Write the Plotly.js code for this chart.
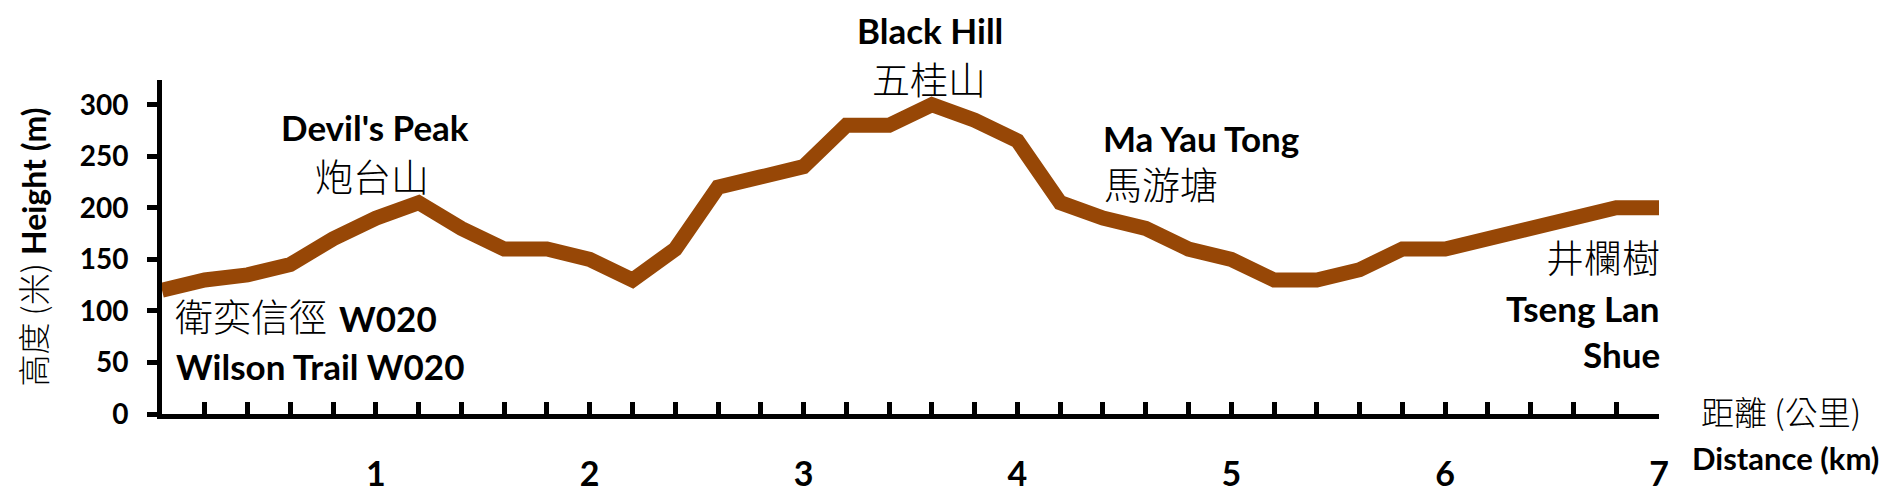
<!DOCTYPE html>
<html>
<head>
<meta charset="utf-8">
<script src="https://cdn.plot.ly/plotly-3.0.1.min.js"></script>
<style>
  html, body { margin: 0; padding: 0; background: #ffffff; }
  #chart { width: 1892px; height: 498px; }
</style>
</head>
<body>
<div id="chart"></div>
<script>
// ---- data ----
const distanceKm = [0.0, 0.2, 0.4, 0.6, 0.8, 1.0, 1.2, 1.4, 1.6, 1.8,
                    2.0, 2.2, 2.4, 2.6, 2.8, 3.0, 3.2, 3.4, 3.6, 3.8,
                    4.0, 4.2, 4.4, 4.6, 4.8, 5.0, 5.2, 5.4, 5.6, 5.8,
                    6.0, 6.2, 6.4, 6.6, 6.8, 7.0];
const heightM = [120, 130, 135, 145, 170, 190, 205, 180, 160, 160,
                 150, 130, 160, 220, 230, 240, 280, 280, 300, 285,
                 265, 205, 190, 180, 160, 150, 130, 130, 140, 160,
                 160, 170, 180, 190, 200, 200];
const xTickVals = [1, 2, 3, 4, 5, 6, 7];
const xTickText = ['1', '2', '3', '4', '5', '6', '7'];
const yTickVals = [0, 50, 100, 150, 200, 250, 300];
const yTickText = ['0', '50', '100', '150', '200', '250', '300'];
const placeEn = ["Devil's Peak", 'Black Hill', 'Ma Yau Tong', 'Wilson Trail W020', 'Tseng Lan', 'Shue'];
const placeZh = ['炮台山', '五桂山', '馬游塘', '衛奕信徑', '井欄樹'];
const trailCode = 'W020';
const yTitleZh = '高度 (米)';
const yTitleEn = 'Height (m)';
const xTitleZh = '距離 (公里)';
const xTitleEn = 'Distance (km)';

// ---- layout helpers ----
const M = { l: 162, r: 233, t: 80, b: 84 };
const W = 1892, H = 498;
const PW = W - M.l - M.r, PH = H - M.t - M.b;
const px = x => (x - M.l) / PW;
const py = y => (H - M.b - y) / PH;

const CJK_FAMILY = '"Noto Sans CJK TC", "Noto Sans CJK SC", sans-serif';
const EN = { family: 'Lato, "Open Sans", sans-serif', size: 35, color: '#000000', weight: 'bold' };
const ZH = { family: CJK_FAMILY, size: 38, color: '#000000', weight: 300 };

function ann(text, x, y, xanchor, font) {
  return { text: text, xref: 'paper', yref: 'paper', x: px(x), y: py(y),
           xanchor: xanchor, yanchor: 'middle', showarrow: false, font: font };
}

const annotations = [
  ann(placeEn[0], 375, 127, 'center', EN),
  ann(placeZh[0], 372, 174, 'center', ZH),
  ann(placeEn[1], 930, 30, 'center', EN),
  ann(placeZh[1], 929, 77, 'center', ZH),
  ann(placeEn[2], 1101, 138, 'left', EN),
  ann(placeZh[2], 1102, 182, 'left', ZH),
  ann(placeZh[3], 173, 314, 'left', ZH),
  ann(trailCode, 337, 318, 'left', EN),
  ann(placeEn[3], 174, 366, 'left', EN),
  ann(placeZh[4], 1662, 255, 'right', ZH),
  ann(placeEn[4], 1662, 308, 'right', EN),
  ann(placeEn[5], 1662, 354, 'right', EN),
  ann(xTitleZh, 1699, 411, 'left', Object.assign({}, ZH, { size: 33 })),
  ann(xTitleEn, 1690, 458, 'left', Object.assign({}, EN, { size: 31 }))
];

const trace = {
  x: distanceKm,
  y: heightM,
  type: 'scatter',
  mode: 'lines',
  line: { color: '#974706', width: 15, shape: 'linear' },
  hoverinfo: 'skip'
};

const layout = {
  width: W, height: H,
  margin: M,
  paper_bgcolor: '#ffffff',
  plot_bgcolor: '#ffffff',
  showlegend: false,
  xaxis: {
    range: [0, 7],
    showgrid: false, zeroline: false,
    showline: true, linecolor: '#000000', linewidth: 5,
    tickmode: 'array', tickvals: xTickVals, ticktext: xTickText,
    ticks: 'inside', ticklen: 12, tickwidth: 5, tickcolor: '#000000',
    ticklabelstandoff: 26,
    minor: { tickmode: 'linear', tick0: 0, dtick: 0.2, ticks: 'inside', ticklen: 12, tickwidth: 5, tickcolor: '#000000', showgrid: false },
    tickfont: { family: 'Lato, "Open Sans", sans-serif', size: 34, color: '#000000', weight: 'bold' },
    fixedrange: true
  },
  yaxis: {
    range: [0, 324],
    showgrid: false, zeroline: false,
    showline: true, linecolor: '#000000', linewidth: 5,
    tickmode: 'array', tickvals: yTickVals, ticktext: yTickText,
    ticks: 'outside', ticklen: 10, tickwidth: 5, tickcolor: '#000000',
    ticklabelstandoff: 13,
    tickfont: { family: 'Lato, "Open Sans", sans-serif', size: 28, color: '#000000', weight: 'bold' },
    automargin: true,
    title: {
      text: '<span style="font-family:\'Noto Sans CJK TC\';font-weight:300">' + yTitleZh + '</span> <b>' + yTitleEn + '</b>',
      font: { family: 'Lato, "Noto Sans CJK TC", sans-serif', size: 32, color: '#000000' },
      standoff: 25
    },
    fixedrange: true
  },
  annotations: annotations
};

Plotly.newPlot('chart', [trace], layout, { staticPlot: true, displayModeBar: false });
</script>
</body>
</html>
